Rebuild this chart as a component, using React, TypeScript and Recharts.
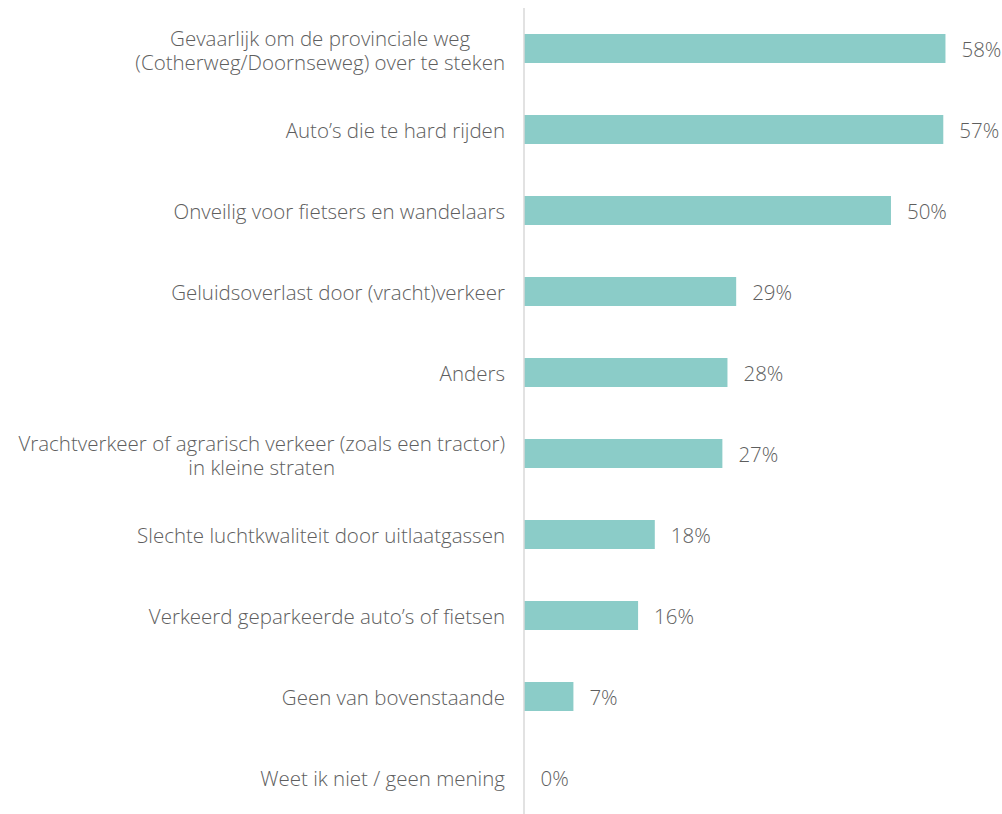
import { BarChart, Bar, XAxis, YAxis, LabelList, Cell } from "recharts";

// Answer categories (\n = line break in the axis label)
const CATEGORIES = [
  "Gevaarlijk om de provinciale weg\n(Cotherweg/Doornseweg) over te steken",
  "Auto’s die te hard rijden",
  "Onveilig voor fietsers en wandelaars",
  "Geluidsoverlast door (vracht)verkeer",
  "Anders",
  "Vrachtverkeer of agrarisch verkeer (zoals een tractor)\nin kleine straten",
  "Slechte luchtkwaliteit door uitlaatgassen",
  "Verkeerd geparkeerde auto’s of fietsen",
  "Geen van bovenstaande",
  "Weet ik niet / geen mening",
];

// bar lengths (percent)
const VALUES = [58, 57.7, 50.5, 29.2, 28, 27.3, 18, 15.7, 6.8, 0];

// percentages printed next to the bars
const SHOWN = [58, 57, 50, 29, 28, 27, 18, 16, 7, 0];

const FONT = "'Open Sans', 'Noto Sans', sans-serif";
const FONT_SIZE = 20.5;
const FONT_WEIGHT = 300;
const TEXT_COLOR = "#5e5e5e";
const BAR_COLOR = "#8bccc8";

const data = CATEGORIES.map((name, i) => ({ name, value: VALUES[i], shown: SHOWN[i] }));

let ctx: CanvasRenderingContext2D | null = null;
function textWidth(s: string) {
  if (!ctx) ctx = document.createElement("canvas").getContext("2d");
  if (!ctx) return s.length * 10;
  ctx.font = `${FONT_WEIGHT} ${FONT_SIZE}px ${FONT}`;
  return ctx.measureText(s).width;
}

// right-aligned block, lines centred on each other
function CategoryTick(props: any) {
  const { x, y, payload } = props;
  const lines: string[] = String(payload.value).split("\n");
  const maxW = Math.max(...lines.map(textWidth));
  const cx = x - maxW / 2;
  const lh = 24;
  const startY = y - ((lines.length - 1) * lh) / 2 + (lines.length > 1 ? 1 : 0);
  return (
    <g>
      {lines.map((l, i) => (
        <text
          key={i}
          x={cx}
          y={startY + i * lh}
          textAnchor="middle"
          dominantBaseline="central"
          fontFamily={FONT}
          fontSize={FONT_SIZE}
          fontWeight={FONT_WEIGHT}
          fill={TEXT_COLOR}
        >
          {l}
        </text>
      ))}
    </g>
  );
}

function ValueLabel(props: any) {
  const { x, y, width, height, value } = props;
  return (
    <text
      x={Number(x) + Number(width || 0) + 16}
      y={Number(y) + Number(height) / 2}
      dominantBaseline="central"
      fontFamily={FONT}
      fontSize={FONT_SIZE}
      fontWeight={FONT_WEIGHT}
      fill={TEXT_COLOR}
    >
      {`${value}%`}
    </text>
  );
}

export default function App() {
  return (
    <div
      style={{
        position: "absolute",
        left: 0,
        top: 0,
        width: 1002,
        height: 814,
        overflow: "hidden",
        background: "#ffffff",
      }}
    >
      <BarChart
        width={1002}
        height={818}
        data={data}
        layout="vertical"
        margin={{ top: 8, right: 42, bottom: 0, left: 0 }}
      >
        <XAxis type="number" domain={[0, 60]} hide />
        <YAxis
          type="category"
          dataKey="name"
          width={524}
          tickLine={false}
          tickSize={0}
          tickMargin={19}
          axisLine={{ stroke: "#d9d9d9", strokeWidth: 1.5 }}
          tick={<CategoryTick />}
          interval={0}
        />
        <Bar
          dataKey="value"
          fill={BAR_COLOR}
          barSize={29}
          minPointSize={0.5}
          isAnimationActive={false}
        >
          {data.map((d, i) => (
            <Cell key={i} fill={d.value > 0 ? BAR_COLOR : "transparent"} />
          ))}
          <LabelList dataKey="shown" content={<ValueLabel />} />
        </Bar>
      </BarChart>
    </div>
  );
}
